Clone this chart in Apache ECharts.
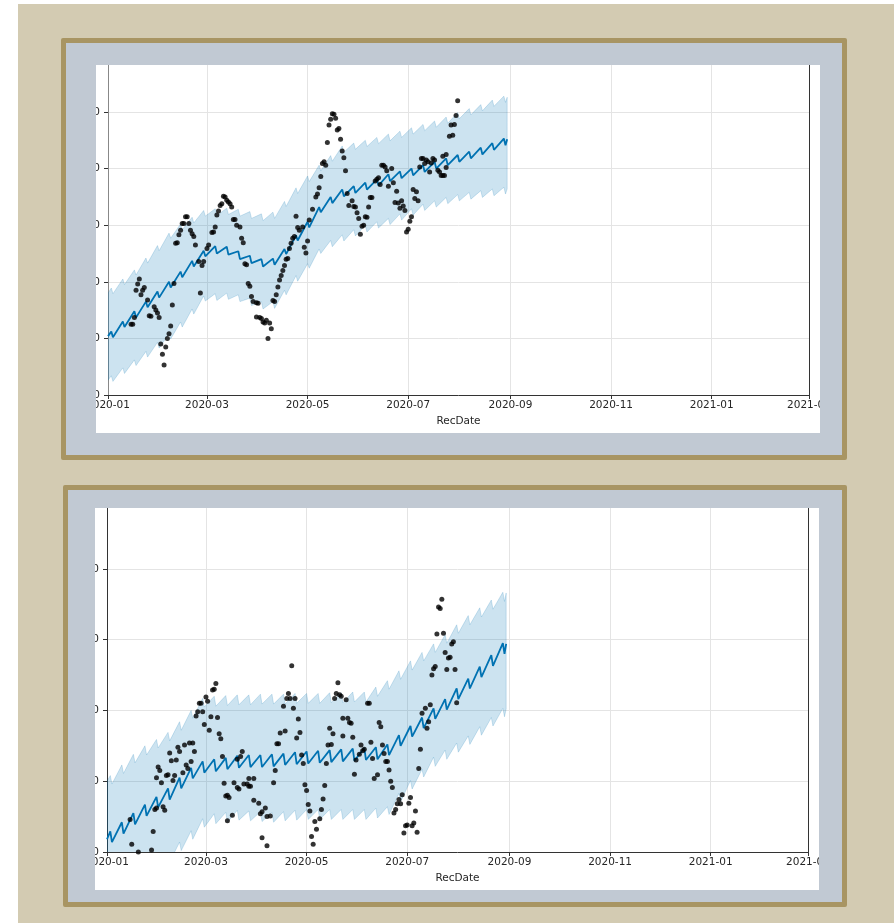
<!DOCTYPE html>
<html>
<head>
<meta charset="utf-8">
<script src="https://cdn.jsdelivr.net/npm/echarts@6/dist/echarts.min.js"></script>
<style>
html, body { margin: 0; padding: 0; background: #fff; }
.bg { position: absolute; left: 18px; top: 4px; width: 876px; height: 919px; background: #d3cbb2; }
.panel { position: absolute; box-sizing: border-box; border: 5px solid #a89563; background: #c1c9d3; border-radius: 2px; }
.chart { position: absolute; background: #fff; }
</style>
</head>
<body>
<div class="bg"></div>
<div class="panel" style="left:61px;top:38px;width:786px;height:422px"></div>
<div class="chart" id="c1" style="left:96px;top:65px;width:724px;height:368px"></div>
<div class="panel" style="left:63px;top:485px;width:784px;height:422px"></div>
<div class="chart" id="c2" style="left:95px;top:508px;width:724px;height:382px"></div>
<script>
// x values are days since 2020-01-01
const xTickDays = [0, 60, 121, 182, 244, 305, 366, 425]
const xTickLabels = ['2020-01', '2020-03', '2020-05', '2020-07', '2020-09', '2020-11', '2021-01', '2021-03']
const yTicks1 = [0, 100, 200, 300, 400, 500]
const yTicks2 = [0, 100, 200, 300, 400]

// forecast grid (peak / dip of the weekly cycle)
const fcDays = [0, 2, 3, 9, 10, 16, 17, 23, 24, 30, 31, 37, 38, 44, 45, 51, 52, 58, 59, 65, 66, 72, 73, 79, 80, 86, 87, 93, 94,
  100, 101, 107, 108, 114, 115, 121, 122, 128, 129, 135, 136, 142, 143, 149, 150, 156, 157, 163, 164, 170, 171, 177, 178,
  184, 185, 191, 192, 198, 199, 205, 206, 212, 213, 219, 220, 226, 227, 233, 234, 240, 241, 242]

const yhat1 = [104, 112, 102, 130, 120, 148, 137, 165, 155, 183, 172, 200, 190, 218, 208, 237, 227, 255, 245, 263, 250, 262, 248,
  254, 240, 246, 233, 240, 227, 241, 230, 258, 249, 282, 273, 306, 296, 332, 323, 350, 339, 363, 351, 369, 357, 375, 363,
  381, 370, 390, 378, 395, 383, 400, 388, 406, 394, 412, 400, 418, 406, 424, 412, 430, 418, 437, 425, 445, 433, 453, 441, 452]
const upper1 = [180, 189, 179, 205, 195, 221, 212, 242, 233, 264, 255, 286, 277, 302, 292, 314, 304, 326, 316, 329, 317, 330, 319,
  328, 316, 324, 312, 320, 308, 323, 312, 342, 333, 366, 356, 387, 377, 406, 396, 423, 413, 440, 429, 445, 434, 450, 439,
  455, 444, 461, 449, 466, 455, 472, 461, 478, 467, 484, 473, 491, 480, 499, 488, 506, 495, 513, 502, 521, 510, 528, 517, 526]
const lower1 = [26, 34, 24, 48, 38, 62, 52, 77, 67, 93, 83, 108, 99, 129, 120, 152, 143, 175, 166, 179, 167, 180, 169,
  177, 165, 171, 158, 165, 152, 165, 153, 185, 177, 211, 201, 232, 224, 258, 250, 273, 262, 283, 272, 292, 281, 300, 288,
  306, 295, 312, 301, 320, 309, 329, 318, 337, 326, 343, 332, 349, 338, 354, 343, 358, 346, 361, 349, 364, 352, 367, 355, 364]

const yhat2 = [18, 29, 14, 42, 26, 55, 39, 67, 51, 78, 63, 90, 74, 105, 90, 119, 104, 128, 112, 131, 114, 133, 117,
  136, 119, 137, 120, 137, 120, 138, 121, 139, 123, 141, 124, 142, 125, 143, 126, 144, 127, 145, 128, 146, 129, 147, 130,
  148, 131, 152, 137, 165, 150, 178, 163, 190, 175, 203, 188, 216, 201, 231, 216, 245, 231, 262, 247, 278, 263, 295, 280, 294]
const upper2 = [100, 108, 96, 123, 111, 138, 126, 150, 137, 159, 147, 169, 157, 184, 172, 200, 189, 217, 205, 220, 206, 221, 207,
  222, 208, 222, 208, 223, 209, 223, 209, 223, 209, 224, 210, 224, 210, 224, 210, 225, 211, 225, 211, 226, 212, 226, 212,
  233, 220, 242, 230, 256, 244, 270, 257, 282, 270, 294, 282, 307, 295, 321, 309, 334, 321, 345, 332, 356, 343, 367, 354, 366]
const lower2 = [-60, -53, -66, -42, -56, -32, -45, -21, -35, -11, -24, 0, -14, 14, 2, 30, 18, 47, 35, 54, 40, 56, 42,
  59, 45, 58, 44, 57, 43, 56, 42, 57, 44, 59, 45, 60, 46, 60, 46, 60, 46, 60, 46, 60, 46, 60, 46,
  62, 48, 64, 53, 83, 71, 101, 89, 117, 106, 134, 121, 144, 131, 154, 141, 164, 152, 177, 165, 190, 178, 203, 191, 202]

// observed points [day, value]
const obs1 = [[14,125],[15,125],[16,137],[17,185],[18,196],[19,205],[20,177],[21,185],[22,190],[24,168],[25,140],[26,139],
  [28,156],[29,150],[30,145],[31,137],[32,90],[33,72],[34,53],[35,85],[36,100],[37,108],[38,122],[39,159],[40,197],
  [41,268],[42,269],[43,283],[44,291],[45,303],[46,303],[47,315],[48,315],[49,303],[50,291],[51,285],[52,280],[53,265],
  [55,236],[56,180],[57,229],[58,236],[60,259],[61,265],[63,287],[64,288],[65,297],[66,318],[67,325],[68,335],[69,338],
  [70,351],[71,350],[72,344],[73,341],[74,338],[75,332],[76,310],[77,310],[78,300],[80,297],[81,277],[82,269],[83,232],
  [84,230],[85,197],[86,192],[87,174],[88,165],[90,163],[91,162],[90,138],[92,137],[93,135],[94,129],[95,127],[96,132],
  [97,100],[98,127],[99,117],[100,167],[101,165],[102,177],[103,191],[104,203],[105,211],[106,220],[107,229],[108,240],
  [109,241],[110,259],[111,268],[112,277],[113,280],[114,316],[115,296],[116,291],[118,297],[119,261],[120,251],[121,272],
  [122,309],[124,328],[126,350],[127,355],[128,366],[129,386],[130,409],[131,412],[132,406],[133,446],[134,477],[135,487],
  [136,497],[137,496],[138,489],[139,468],[140,471],[141,452],[142,431],[143,419],[144,396],[145,356],[146,335],[148,343],
  [149,333],[150,332],[151,322],[152,312],[153,284],[154,298],[155,300],[156,315],[157,314],[158,332],[159,349],[160,349],
  [162,378],[163,381],[164,384],[165,372],[166,406],[167,406],[168,403],[169,396],[170,369],[172,400],[173,375],[174,340],
  [175,360],[176,339],[177,330],[178,343],[179,334],[180,326],[181,288],[182,293],[183,307],[184,315],[185,363],[186,347],
  [187,359],[188,343],[189,403],[190,418],[191,418],[192,409],[193,415],[194,412],[195,394],[196,410],[197,418],[198,415],
  [200,397],[201,394],[202,388],[203,388],[204,388],[203,422],[205,425],[205,402],[207,457],[209,459],[208,477],[210,478],
  [211,494],[212,520]]

const obs2 = [[14,46],[15,11],[19,0],[27,3],[28,29],[29,60],[30,62],[34,64],[35,59],[31,120],[32,115],[30,105],[33,98],
  [36,108],[37,109],[38,140],[39,129],[40,101],[41,108],[42,130],[43,148],[44,142],[46,112],[47,151],[48,123],[49,118],
  [50,154],[52,154],[51,128],[53,142],[54,192],[55,198],[56,210],[57,210],[58,198],[59,180],[60,219],[61,213],[62,172],
  [63,191],[64,229],[65,230],[66,238],[67,190],[68,167],[69,160],[70,135],[71,97],[72,79],[73,80],[74,77],[76,52],[73,44],
  [77,98],[79,91],[80,89],[79,131],[81,135],[82,142],[83,96],[85,96],[86,93],[87,93],[86,104],[89,104],[89,73],[92,69],
  [93,54],[94,57],[96,62],[97,50],[99,51],[94,20],[97,9],[101,98],[102,115],[103,153],[104,153],[105,168],[108,171],
  [107,206],[109,217],[110,224],[111,217],[114,217],[112,263],[113,203],[115,161],[116,188],[117,169],[118,137],[119,125],
  [120,95],[121,87],[122,67],[123,58],[124,22],[125,11],[126,43],[127,32],[129,47],[130,60],[131,75],[132,94],[133,125],
  [134,151],[136,152],[135,175],[137,167],[138,217],[139,224],[140,239],[141,222],[142,220],[143,189],[146,189],[147,183],
  [148,182],[145,215],[143,164],[149,162],[150,110],[151,130],[153,138],[155,143],[156,145],[154,151],[160,155],[158,210],
  [159,210],[161,132],[162,104],[164,109],[165,183],[166,177],[167,151],[168,139],[169,128],[170,128],[171,116],[172,100],
  [173,91],[174,55],[175,60],[176,68],[177,74],[178,68],[179,81],[180,27],[181,37],[182,38],[183,69],[184,77],[185,37],
  [186,41],[187,58],[188,28],[189,118],[190,145],[191,196],[193,203],[194,175],[195,184],[196,208],[197,250],[198,259],
  [199,262],[200,308],[201,346],[202,344],[203,357],[204,309],[205,282],[207,274],[208,275],[206,258],[209,294],[210,297],
  [211,258],[212,211]]

const FONT = 'DejaVu Sans'
const txt = { fontFamily: FONT, fontSize: 10.5, color: '#262626' }

const buildOption = (yMax, yTicks, yhat, lower, upper, obs, leftSpine) => {
  // uncertainty band: polygon through upper then reversed lower, clipped to the grid
  const renderBand = (params, api) => {
    const top = fcDays.map((d, i) => api.coord([d, upper[i]]))
    const bot = fcDays.map((d, i) => api.coord([d, lower[i]])).reverse()
    const cs = params.coordSys
    return {
      type: 'group',
      clipPath: { type: 'rect', shape: { x: cs.x, y: cs.y, width: cs.width, height: cs.height } },
      children: [{
        type: 'polygon',
        shape: { points: top.concat(bot) },
        style: { fill: 'rgba(0,114,178,0.2)', stroke: 'rgba(0,114,178,0.18)', lineWidth: 1 }
      }]
    }
  }
  return {
    animation: false,
    grid: { left: 12, right: 11, top: 0, bottom: 38, outerBoundsMode: 'none', containLabel: false },
    xAxis: {
      type: 'value', min: 0, max: 425,
      name: 'RecDate', nameLocation: 'middle', nameGap: 13, nameTextStyle: txt,
      axisLine: { lineStyle: { color: '#333', width: 1 } },
      axisTick: { customValues: xTickDays, length: 4, lineStyle: { color: '#333' } },
      axisLabel: { customValues: xTickDays, formatter: v => xTickLabels[xTickDays.indexOf(v)], margin: 5, hideOverlap: false, ...txt },
      splitLine: { show: true, lineStyle: { color: '#e4e4e4', width: 1 } }
    },
    yAxis: [
      {
        type: 'value', min: 0, max: yMax,
        axisLine: { show: true, lineStyle: { color: leftSpine, width: 1 } },
        axisTick: { show: true, customValues: yTicks, length: 4, lineStyle: { color: '#333' } },
        axisLabel: { customValues: yTicks, margin: 8, ...txt },
        splitLine: { show: true, lineStyle: { color: '#e4e4e4', width: 1 } }
      },
      {
        type: 'value', min: 0, max: yMax, position: 'right',
        axisLine: { show: true, lineStyle: { color: '#333', width: 1 } },
        axisTick: { show: false }, axisLabel: { show: false }, splitLine: { show: false }
      }
    ],
    series: [
      {
        type: 'custom', renderItem: renderBand, data: [[0, 0]],
        encode: { x: 0, y: 1 }, silent: true, z: 1
      },
      {
        type: 'line', data: fcDays.map((d, i) => [d, yhat[i]]), symbol: 'none',
        lineStyle: { color: '#0072B2', width: 1.8 }, z: 2
      },
      {
        type: 'scatter', data: obs, symbolSize: 5,
        itemStyle: { color: '#000' }, z: 3
      }
    ]
  }
}

const chart1 = echarts.init(document.getElementById('c1'))
chart1.setOption(buildOption(583, yTicks1, yhat1, lower1, upper1, obs1, '#888'))
const chart2 = echarts.init(document.getElementById('c2'))
chart2.setOption(buildOption(486, yTicks2, yhat2, lower2, upper2, obs2, '#333'))
</script>
</body>
</html>
